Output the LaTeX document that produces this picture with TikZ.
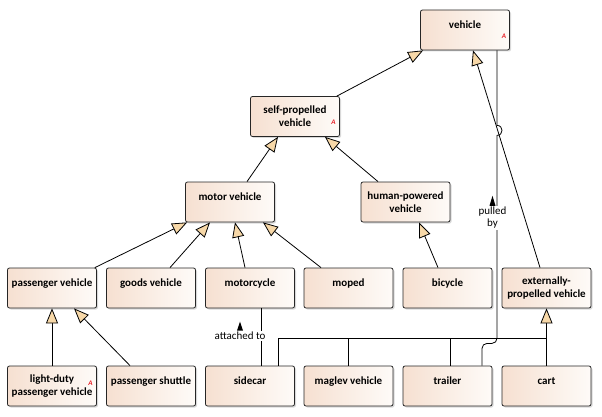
\documentclass[tikz,border=0pt]{standalone}
\usepackage{fontspec}
\setmainfont{Carlito}
\usetikzlibrary{arrows.meta,shadows}
\definecolor{boxleft}{RGB}{246,224,209}
\definecolor{boxright}{RGB}{254,251,248}
\definecolor{genfill}{RGB}{247,216,168}
\definecolor{abstractred}{RGB}{232,32,40}
\tikzset{class/.style={draw=black!85,line width=0.8pt,rounded corners=2pt,left color=boxleft,right color=boxright,
    minimum width=89pt,minimum height=40pt,inner sep=2pt,align=center,font=\fontsize{11}{13}\selectfont\bfseries,
    drop shadow={shadow xshift=1.5pt,shadow yshift=-1.5pt,opacity=0.3}}}
\tikzset{oneline/.style={text height=7pt,text depth=9.8pt}}
\tikzset{gen/.style={line width=0.8pt,-{Triangle[length=15pt,width=12pt,fill=genfill,line width=0.8pt]}}}
\tikzset{assoc/.style={line width=0.8pt}}
\tikzset{role/.style={fill=white,inner sep=1pt,align=center,font=\fontsize{11}{12}\selectfont}}
\tikzset{abstract/.style={text=abstractred,inner sep=0pt,font=\fontsize{7}{7}\selectfont\bfseries\itshape}}

\begin{document}
\begin{tikzpicture}[x=1pt,y=-1pt]
    \useasboundingbox (0,0) rectangle (602,417);
    % classes
    \node[class,oneline] (vehicle) at (465,30) {vehicle};
    \node[class] (selfprop) at (295,116.5) {self-propelled\\vehicle};
    \node[class,oneline] (motor) at (230,202) {motor vehicle};
    \node[class] (humanpow) at (405.5,202) {human-powered\\vehicle};
    \node[class,oneline] (passenger) at (52,288) {passenger vehicle};
    \node[class,oneline] (goods) at (151,288) {goods vehicle};
    \node[class,oneline] (motorcycle) at (250,288) {motorcycle};
    \node[class,oneline] (moped) at (348.5,288) {moped};
    \node[class,oneline] (bicycle) at (447.5,288) {bicycle};
    \node[class] (extprop) at (546.5,288) {externally-\\propelled vehicle};
    \node[class] (lightduty) at (52,386) {light-duty\\passenger vehicle};
    \node[class,oneline] (shuttle) at (151,386) {passenger shuttle};
    \node[class,oneline] (sidecar) at (250,386) {sidecar};
    \node[class,oneline] (maglev) at (348.5,386) {maglev vehicle};
    \node[class,oneline] (trailer) at (447.5,386) {trailer};
    \node[class,oneline] (cart) at (546.5,386) {cart};
    % abstract marks
    \node[abstract] (vehicleA) at ([xshift=-6pt,yshift=-6pt]vehicle.east) {A};
    \node[abstract] (selfpropA) at ([xshift=-6.5pt,yshift=-6pt]selfprop.east) {A};
    \node[abstract] (lightdutyA) at ([xshift=-6.5pt,yshift=3pt]lightduty.east) {A};
    % generalizations
    \draw[gen] ([xshift=-3pt]selfprop.north east) -- ([xshift=3pt]vehicle.south west);
    \draw[gen] ([xshift=-6.5pt]extprop.north) -- ([xshift=8pt]vehicle.south);
    \draw[gen] ([xshift=17pt]motor.north) -- ([xshift=-17pt]selfprop.south);
    \draw[gen] ([xshift=-27.5pt]humanpow.north) -- ([xshift=30pt]selfprop.south);
    \draw[gen] ([xshift=-2pt]passenger.north east) -- ([xshift=2pt]motor.south west);
    \draw[gen] ([xshift=19pt]goods.north) -- ([xshift=-20pt]motor.south);
    \draw[gen] ([xshift=-5pt]motorcycle.north) -- ([xshift=5pt]motor.south);
    \draw[gen] ([xshift=-27.5pt]moped.north) -- ([xshift=33pt]motor.south);
    \draw[gen] ([xshift=-9.5pt]bicycle.north) -- ([xshift=13.5pt]humanpow.south);
    \draw[gen] (lightduty) -- (passenger);
    \draw[gen] ([xshift=-21pt]shuttle.north) -- ([xshift=22pt]passenger.south);
    % shared tree
    \coordinate (bus) at (546.5,338);
    \draw[assoc] ([xshift=28pt]sidecar.north) |- (bus);
    \draw[assoc] (maglev.north) -- (maglev.north |- bus);
    \draw[assoc] ([xshift=3pt]trailer.north) -- ([xshift=3pt]trailer.north |- bus);
    \draw[assoc] (cart.north) -- (bus);
    \draw[gen,line width=1.6pt] (bus) -- (extprop.south);
    % associations
    \draw[assoc] ([xshift=11pt]motorcycle.south) -- ([xshift=11pt]sidecar.north)
        node[role,pos=0.48,xshift=-21pt] (attached) {attached to};
    \draw[assoc] ([xshift=32pt]vehicle.south) -- ++(0,75) .. controls +(6.7,0) and +(6.7,0) .. ++(0,10)
        -- ++(0,165) node[role,pos=0.5,xshift=-4.5pt] (pulled) {pulled\\by}
        [rounded corners=5pt] -- ++(0,43) -- ++(-15,0) -- ([xshift=34.5pt]trailer.north);
    \fill (attached.north) ++(-3,0) -- ++(6,0) -- ++(-3,-9) -- cycle;
    \fill (pulled.north) ++(-3,0) -- ++(6,0) -- ++(-3,-10) -- cycle;
\end{tikzpicture}
\end{document}
